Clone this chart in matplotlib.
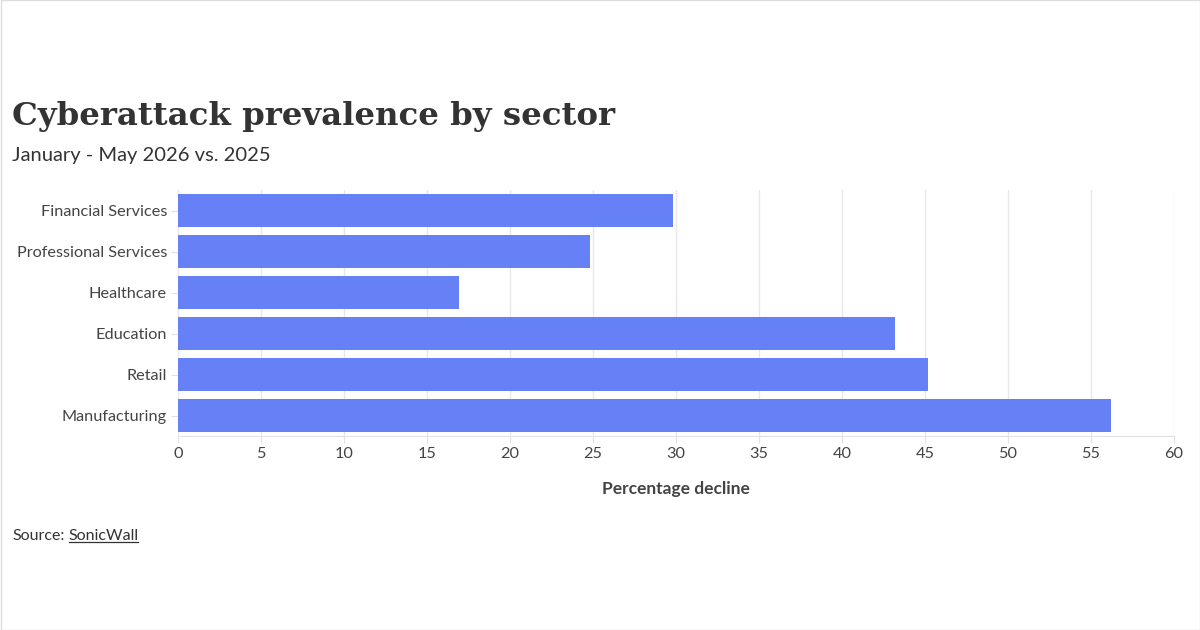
import matplotlib
matplotlib.use("Agg")
import matplotlib.pyplot as plt
from matplotlib.patches import Rectangle
from matplotlib.lines import Line2D

sectors = ["Financial Services", "Professional Services", "Healthcare",
           "Education", "Retail", "Manufacturing"]
decline = [29.8, 24.8, 16.9, 43.2, 45.2, 56.2]
xticks = [0, 5, 10, 15, 20, 25, 30, 35, 40, 45, 50, 55, 60]

plt.rcParams['font.family'] = ['Lato', 'DejaVu Sans']

fig = plt.figure(figsize=(12, 6.3), dpi=100)
ax = fig.add_axes([178/1200, 1-436/630, (1174-178)/1200, (436-190)/630])

y = list(range(len(sectors)))
ax.barh(y, decline, height=0.8, color="#6680F5", zorder=3)
ax.set_ylim(len(sectors)-0.5, -0.5)
ax.set_xlim(0, 60)
ax.set_xticks(xticks)
ax.set_xticklabels([str(t) for t in xticks])
ax.set_yticks(y)
ax.set_yticklabels(sectors)
ax.grid(axis='x', color="#E8E8EC", linewidth=1, zorder=0)
for s in ["top", "right", "left"]:
    ax.spines[s].set_visible(False)
ax.spines["bottom"].set_color("#E0E0E6")
ax.tick_params(axis='y', length=5, color="#E0E0E6", labelsize=11.7, labelcolor="#444444", pad=3)
ax.tick_params(axis='x', length=5, color="#E0E0E6", labelsize=11.7, labelcolor="#444444", pad=3)
ax.set_xlabel("Percentage decline", fontsize=12.5, fontweight='bold', color="#444444", labelpad=14)

fig.text(12/1200, 1-125/630, "Cyberattack prevalence by sector",
         fontsize=23.3, fontweight='bold', color="#333333",
         family=['DejaVu Serif'])
fig.text(12/1200, 1-161/630, "January - May 2026 vs. 2025", fontsize=14.5, color="#333333")

src = fig.text(12/1200, 1-540/630, "Source:", fontsize=11.5, color="#333333")
fig.canvas.draw()
r = fig.canvas.get_renderer()
bb = src.get_window_extent(r)
link = fig.text((bb.x1 + 4)/1200, 1-540/630, "SonicWall", fontsize=11.5, color="#333333")
fig.canvas.draw()
lb = link.get_window_extent(r)
fig.add_artist(Line2D([(lb.x0+1)/1200, (lb.x1-1)/1200], [(lb.y0+1.5)/630, (lb.y0+1.5)/630],
                      color="#333333", linewidth=0.9))

fig.add_artist(Rectangle((0.5/1200, 0), 1-1/1200, 1, transform=fig.transFigure,
                         fill=False, edgecolor="#DDDDDD", linewidth=1))

fig.savefig("out.png", dpi=100)
